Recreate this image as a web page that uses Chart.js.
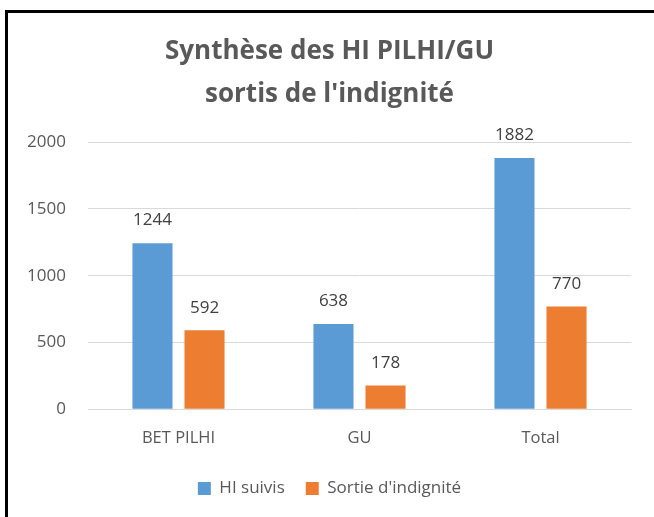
<!DOCTYPE html>
<html lang="fr">
<head>
    <meta charset="UTF-8">
    <title>Synthèse des HI PILHI/GU</title>
    <script src="https://cdn.jsdelivr.net/npm/chart.js"></script>
    <style>
        html, body {
            margin: 0;
            padding: 0;
            overflow: hidden;
            background: #fff;
        }
        #wrap {
            position: absolute;
            left: 0;
            top: 0;
            width: 654px;
            height: 517px;
        }
        #frame {
            position: absolute;
            left: 5px;
            top: 10px;
            width: 700px;
            height: 600px;
            border-left: 3px solid #000;
            border-top: 3px solid #000;
            pointer-events: none;
        }
    </style>
</head>
<body>
    <div id="wrap"><canvas id="chart" width="654" height="517"></canvas></div>
    <div id="frame"></div>
    <script>
        // données
        const categories = ['BET PILHI', 'GU', 'Total'];
        const hiSuivis = [1244, 638, 1882];
        const sortieIndignite = [592, 178, 770];
        const yTicks = [0, 500, 1000, 1500, 2000];

        const fontFamily = '"Open Sans", sans-serif';

        // valeurs au-dessus des barres
        const valueLabels = {
            id: 'valueLabels',
            afterDatasetsDraw(chart) {
                const ctx = chart.ctx;
                ctx.save();
                ctx.font = '17px ' + fontFamily;
                ctx.fillStyle = '#404040';
                ctx.textAlign = 'center';
                ctx.textBaseline = 'bottom';
                chart.data.datasets.forEach((ds, i) => {
                    chart.getDatasetMeta(i).data.forEach((bar, j) => {
                        ctx.fillText(ds.data[j], bar.x, bar.y - 14);
                    });
                });
                ctx.restore();
            }
        };

        new Chart(document.getElementById('chart'), {
            type: 'bar',
            data: {
                labels: categories,
                datasets: [{
                    label: 'HI suivis',
                    data: hiSuivis,
                    backgroundColor: '#5B9BD5'
                }, {
                    label: "Sortie d'indignité",
                    data: sortieIndignite,
                    backgroundColor: '#ED7D31'
                }]
            },
            options: {
                responsive: false,
                animation: false,
                layout: {
                    padding: { left: 28, right: 23, top: 31, bottom: 10 }
                },
                datasets: {
                    bar: {
                        categoryPercentage: 0.575,
                        barPercentage: 0.77
                    }
                },
                plugins: {
                    title: {
                        display: true,
                        text: ['Synthèse des HI PILHI/GU', "sortis de l'indignité"],
                        color: '#595959',
                        font: { family: fontFamily, size: 26, weight: 'bold', lineHeight: 1.62 },
                        padding: { top: 0, bottom: 27 }
                    },
                    legend: {
                        position: 'bottom',
                        labels: {
                            color: '#595959',
                            font: { family: fontFamily, size: 17 },
                            boxWidth: 13,
                            boxHeight: 13,
                            padding: 21
                        }
                    },
                    tooltip: { enabled: false }
                },
                scales: {
                    x: {
                        grid: { display: false },
                        border: { color: '#d9d9d9' },
                        ticks: {
                            color: '#595959',
                            font: { family: fontFamily, size: 16.5 },
                            padding: 11
                        }
                    },
                    y: {
                        min: 0,
                        max: 2000,
                        afterBuildTicks(axis) {
                            axis.ticks = yTicks.map(v => ({ value: v }));
                        },
                        afterFit(axis) {
                            axis.width = 60;
                        },
                        grid: { color: '#d9d9d9', drawTicks: false },
                        border: { display: false },
                        ticks: {
                            color: '#595959',
                            font: { family: fontFamily, size: 17 },
                            padding: 22,
                            callback: v => String(v)
                        }
                    }
                }
            },
            plugins: [valueLabels]
        });
    </script>
</body>
</html>
